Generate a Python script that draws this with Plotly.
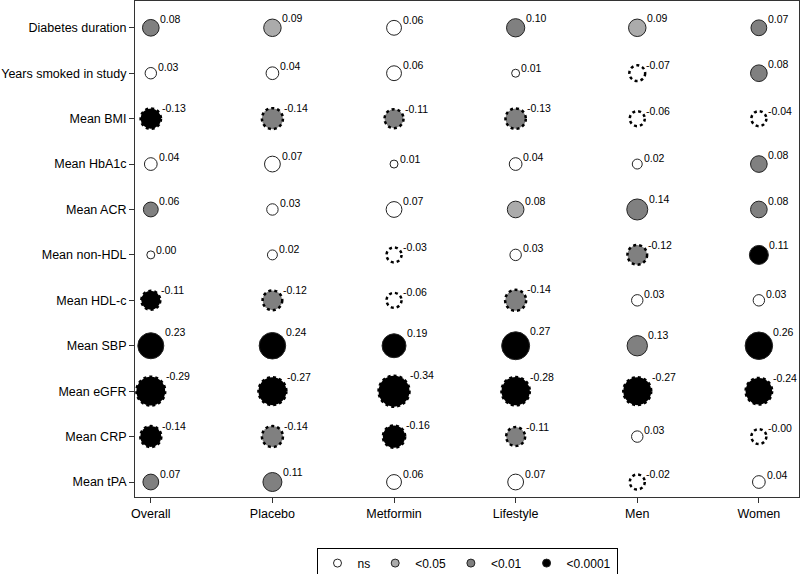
import numpy as np
import plotly.graph_objects as go

# Rows (top to bottom) and study groups
rows = ['Diabetes duration', 'Years smoked in study', 'Mean BMI', 'Mean HbA1c',
        'Mean ACR', 'Mean non-HDL', 'Mean HDL-c', 'Mean SBP', 'Mean eGFR',
        'Mean CRP', 'Mean tPA']
groups = ['Overall', 'Placebo', 'Metformin', 'Lifestyle', 'Men', 'Women']

# correlation values, one list per row
corr = [
    [0.08, 0.09, 0.06, 0.10, 0.09, 0.07],
    [0.03, 0.04, 0.06, 0.01, -0.07, 0.08],
    [-0.13, -0.14, -0.11, -0.13, -0.06, -0.04],
    [0.04, 0.07, 0.01, 0.04, 0.02, 0.08],
    [0.06, 0.03, 0.07, 0.08, 0.14, 0.08],
    [0.00, 0.02, -0.03, 0.03, -0.12, 0.11],
    [-0.11, -0.12, -0.06, -0.14, 0.03, 0.03],
    [0.23, 0.24, 0.19, 0.27, 0.13, 0.26],
    [-0.29, -0.27, -0.34, -0.28, -0.27, -0.24],
    [-0.14, -0.14, -0.16, -0.11, 0.03, -0.00],
    [0.07, 0.11, 0.06, 0.07, -0.02, 0.04],
]
# significance class: 0 = ns, 1 = <0.05, 2 = <0.01, 3 = <0.0001
signif = [
    [2, 1, 0, 2, 1, 2],
    [0, 0, 0, 0, 0, 2],
    [3, 2, 2, 2, 0, 0],
    [0, 0, 0, 0, 0, 2],
    [2, 0, 0, 1, 2, 2],
    [0, 0, 0, 0, 2, 3],
    [3, 2, 0, 2, 0, 0],
    [3, 3, 3, 3, 2, 3],
    [3, 3, 3, 3, 3, 3],
    [3, 2, 3, 2, 0, 0],
    [2, 2, 0, 0, 0, 0],
]
# negative zero shown as "-0.00"
neg_zero = [(9, 5)]

sig_labels = ['ns', '<0.05', '<0.01', '<0.0001']
sig_colors = ['white', '#ababab', '#808080', 'black']

font = 'Liberation Sans, Arial, sans-serif'


def diameter(v, negative):
    d = 3.2 + 47.6 * np.sqrt(abs(v))
    return max(d, 15 if negative else 8)


fig = go.Figure()
shapes = []
annotations = []

for k in range(4):
    xs, ys, sizes, lw = [], [], [], []
    for i, row in enumerate(corr):
        for j, v in enumerate(row):
            if signif[i][j] != k:
                continue
            neg = v < 0 or (i, j) in neg_zero
            d = diameter(v, neg)
            xs.append(j)
            ys.append(i)
            sizes.append(d)
            lw.append(0 if neg else 1)
            r = d / 2
            if neg:
                shapes.append(dict(type='circle', xref='x', yref='y',
                                   xsizemode='pixel', ysizemode='pixel',
                                   xanchor=j, yanchor=i,
                                   x0=-r, x1=r, y0=-r, y1=r,
                                   line=dict(color='black', width=2.5, dash='dot')))
            label = '-0.00' if (i, j) in neg_zero else f'{v:.2f}'
            annotations.append(dict(x=j, y=i, xref='x', yref='y', text=label,
                                    showarrow=False, xanchor='left', yanchor='middle',
                                    xshift=r * 0.9, yshift=r * 0.95 + 1,
                                    font=dict(family=font, size=10.5, color='black')))
    fig.add_trace(go.Scatter(
        x=xs, y=ys, mode='markers', showlegend=False, hoverinfo='skip',
        marker=dict(size=sizes, color=sig_colors[k], opacity=1,
                    line=dict(width=lw, color='#222222'))
    ))

# legend entries
for k in range(4):
    fig.add_trace(go.Scatter(
        x=[None], y=[None], mode='markers', name=sig_labels[k],
        marker=dict(size=8, color=sig_colors[k], line=dict(width=1, color='#222222'))
    ))

fig.update_xaxes(range=[-0.13, 5.33], tickvals=list(range(len(groups))), ticktext=groups,
                 showgrid=False, zeroline=False, showline=True, linecolor='#333333',
                 mirror=True, ticks='outside', ticklen=5, tickcolor='#333333',
                 automargin=False,
                 tickfont=dict(family=font, size=12.5, color='black'))
fig.update_yaxes(range=[10.33, -0.59], tickvals=list(range(len(rows))), ticktext=rows,
                 showgrid=False, zeroline=False, showline=True, linecolor='#333333',
                 mirror=True, ticks='outside', ticklen=5, tickcolor='#333333',
                 automargin=False,
                 tickfont=dict(family=font, size=12.5, color='black'))

fig.update_layout(
    width=800, height=574,
    margin=dict(l=135, r=1, t=1, b=77, autoexpand=False),
    plot_bgcolor='white', paper_bgcolor='white',
    shapes=shapes, annotations=annotations,
    legend=dict(orientation='h', x=0.5, xanchor='center', y=-0.102, yanchor='top',
                bordercolor='black', borderwidth=1, itemwidth=30,
                font=dict(family=font, size=12, color='black'),
                tracegroupgap=0),
)

# drop the page's default body margin so the figure sits at the window's corner
fig.write_html('out.html', config={'displayModeBar': False},
               post_script="document.body.style.margin='0';")
